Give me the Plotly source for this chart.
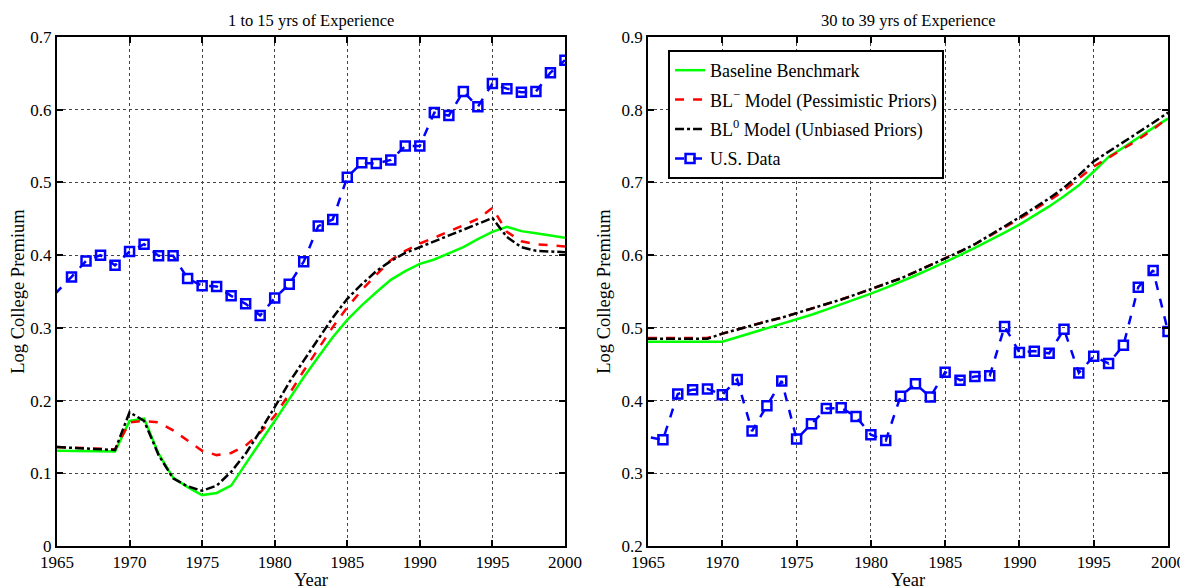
import plotly.graph_objects as go

years = [1965, 1966, 1967, 1968, 1969, 1970, 1971, 1972, 1973, 1974, 1975, 1976,
         1977, 1978, 1979, 1980, 1981, 1982, 1983, 1984, 1985, 1986, 1987, 1988,
         1989, 1990, 1991, 1992, 1993, 1994, 1995, 1996, 1997, 1998, 1999, 2000]
# observed data: series begins before the axis range (1964 point is clipped), no 1965 mark
data_years = [1964, 1966, 1967, 1968, 1969, 1970, 1971, 1972, 1973, 1974, 1975, 1976,
              1977, 1978, 1979, 1980, 1981, 1982, 1983, 1984, 1985, 1986, 1987, 1988,
              1989, 1990, 1991, 1992, 1993, 1994, 1995, 1996, 1997, 1998, 1999, 2000]

# Left panel: 1 to 15 yrs of experience
left_baseline = [0.131, 0.131, 0.131, 0.131, 0.130, 0.172, 0.175, 0.127, 0.094, 0.081, 0.070, 0.073,
                 0.083, 0.113, 0.142, 0.172, 0.202, 0.232, 0.260, 0.287, 0.311, 0.331, 0.349, 0.366,
                 0.378, 0.388, 0.394, 0.403, 0.411, 0.422, 0.432, 0.439, 0.433, 0.430, 0.427, 0.424]
left_pess = [0.136, 0.135, 0.135, 0.134, 0.133, 0.170, 0.172, 0.170, 0.159, 0.145, 0.131, 0.125,
             0.128, 0.138, 0.156, 0.179, 0.209, 0.241, 0.271, 0.301, 0.328, 0.352, 0.373, 0.393,
             0.406, 0.416, 0.424, 0.432, 0.441, 0.450, 0.465, 0.432, 0.419, 0.415, 0.413, 0.412]
left_unb = [0.136, 0.135, 0.135, 0.134, 0.132, 0.184, 0.172, 0.125, 0.093, 0.082, 0.076, 0.083,
            0.102, 0.127, 0.158, 0.191, 0.225, 0.255, 0.284, 0.314, 0.340, 0.360, 0.378, 0.392,
            0.403, 0.411, 0.419, 0.427, 0.435, 0.443, 0.451, 0.425, 0.411, 0.406, 0.405, 0.404]
left_data = [0.329, 0.370, 0.392, 0.400, 0.386, 0.405, 0.415, 0.399, 0.399, 0.368, 0.358,
             0.357, 0.344, 0.333, 0.317, 0.341, 0.360, 0.391, 0.440, 0.449, 0.507, 0.527, 0.526,
             0.531, 0.550, 0.550, 0.596, 0.592, 0.625, 0.604, 0.636, 0.629, 0.624, 0.625, 0.651, 0.668]

# Right panel: 30 to 39 yrs of experience
right_baseline = [0.481, 0.481, 0.481, 0.481, 0.481, 0.481, 0.487, 0.493, 0.499, 0.505, 0.511, 0.518,
                  0.525, 0.532, 0.539, 0.547, 0.555, 0.563, 0.572, 0.581, 0.590, 0.600, 0.610, 0.620,
                  0.631, 0.642, 0.654, 0.667, 0.681, 0.696, 0.715, 0.735, 0.748, 0.762, 0.775, 0.788]
right_pess = [0.486, 0.486, 0.486, 0.486, 0.486, 0.492, 0.498, 0.504, 0.509, 0.514, 0.520, 0.526,
              0.532, 0.539, 0.546, 0.553, 0.560, 0.568, 0.577, 0.586, 0.596, 0.605, 0.615, 0.626,
              0.638, 0.650, 0.662, 0.675, 0.689, 0.705, 0.722, 0.734, 0.746, 0.759, 0.773, 0.789]
right_unb = [0.485, 0.485, 0.485, 0.485, 0.485, 0.492, 0.498, 0.504, 0.509, 0.514, 0.520, 0.526,
             0.532, 0.539, 0.546, 0.553, 0.560, 0.568, 0.577, 0.586, 0.596, 0.605, 0.615, 0.627,
             0.640, 0.652, 0.665, 0.678, 0.693, 0.710, 0.729, 0.742, 0.755, 0.768, 0.782, 0.796]
right_data = [0.354, 0.346, 0.409, 0.415, 0.416, 0.408, 0.429, 0.358, 0.393, 0.427, 0.347,
              0.368, 0.389, 0.390, 0.378, 0.353, 0.345, 0.406, 0.423, 0.405, 0.439, 0.428, 0.433,
              0.434, 0.502, 0.466, 0.468, 0.465, 0.498, 0.438, 0.461, 0.451, 0.476, 0.556, 0.579, 0.495]

series_names = ["Baseline Benchmark", "BL<sup>\u2212</sup> Model (Pessimistic Priors)",
                "BL<sup>0</sup> Model (Unbiased Priors)", "U.S. Data"]
titles = ["1 to 15 yrs of Experience", "30 to 39 yrs of Experience"]

FONT = "Liberation Serif, Times New Roman, serif"

fig = go.Figure()
panels = [(left_baseline, left_pess, left_unb, left_data, "x", "y", False),
          (right_baseline, right_pess, right_unb, right_data, "x2", "y2", True)]
for base, pess, unb, dat, xa, ya, show in panels:
    fig.add_trace(go.Scatter(x=years, y=base, mode="lines", name=series_names[0], legendgroup="g0",
                             line=dict(color="#00ff00", width=2.5), xaxis=xa, yaxis=ya, showlegend=show))
    fig.add_trace(go.Scatter(x=years, y=pess, mode="lines", name=series_names[1], legendgroup="g1",
                             line=dict(color="#ff0000", width=2.5, dash="dash"), xaxis=xa, yaxis=ya, showlegend=show))
    fig.add_trace(go.Scatter(x=years, y=unb, mode="lines", name=series_names[2], legendgroup="g2",
                             line=dict(color="#000000", width=2.5, dash="dashdot"), xaxis=xa, yaxis=ya, showlegend=show))
    fig.add_trace(go.Scatter(x=data_years, y=dat, mode="lines+markers", name=series_names[3], legendgroup="g3",
                             line=dict(color="#0000ff", width=2.5, dash="dash"),
                             marker=dict(symbol="square-open", size=9, color="#0000ff", line=dict(width=2.5)),
                             xaxis=xa, yaxis=ya, showlegend=show))

axis_common = dict(showline=True, linecolor="black", linewidth=2, mirror="ticks",
                   ticks="inside", ticklen=6, tickwidth=1.5, tickcolor="black",
                   showgrid=True, gridcolor="#444444", griddash="dot", gridwidth=1,
                   zeroline=False, automargin=False,
                   tickfont=dict(family=FONT, size=17, color="black"))

TITLE_FONT = dict(family=FONT, size=18.5, color="black")
L0, L1 = 0.0, 0.4572
R0, R1 = 0.532, 1.0
# the page body adds an 8px offset; margins compensate so the plot areas
# land at x 57-1168, y 37-546 in the window
fig.update_layout(
    width=1188, height=588,
    margin=dict(l=49, r=28, t=29, b=50),
    paper_bgcolor="white", plot_bgcolor="white",
    font=dict(family=FONT, color="black"),
    xaxis=dict(domain=[L0, L1], range=[1965, 2000], dtick=5, anchor="y",
               title=dict(text="Year", font=TITLE_FONT, standoff=2), **axis_common),
    yaxis=dict(domain=[0, 1], range=[0, 0.7], dtick=0.1, anchor="x",
               title=dict(text="Log College Premium", font=TITLE_FONT, standoff=6), **axis_common),
    xaxis2=dict(domain=[R0, R1], range=[1965, 2000], dtick=5, anchor="y2",
                title=dict(text="Year", font=TITLE_FONT, standoff=2), **axis_common),
    yaxis2=dict(domain=[0, 1], range=[0.2, 0.9], dtick=0.1, anchor="x2",
                title=dict(text="Log College Premium", font=TITLE_FONT, standoff=6), **axis_common),
    legend=dict(x=0.55, y=0.9745, xanchor="left", yanchor="top",
                bgcolor="white", bordercolor="black", borderwidth=2,
                font=dict(family=FONT, size=18, color="black"), tracegroupgap=3),
    annotations=[
        dict(text=titles[0], x=(L0 + L1) / 2, y=1.0, xref="paper", yref="paper",
             xanchor="center", yanchor="bottom", yshift=5, showarrow=False,
             font=dict(family=FONT, size=16.5)),
        dict(text=titles[1], x=(R0 + R1) / 2, y=1.0, xref="paper", yref="paper",
             xanchor="center", yanchor="bottom", yshift=5, showarrow=False,
             font=dict(family=FONT, size=16.5)),
    ],
)

fig.write_html("out.html")
